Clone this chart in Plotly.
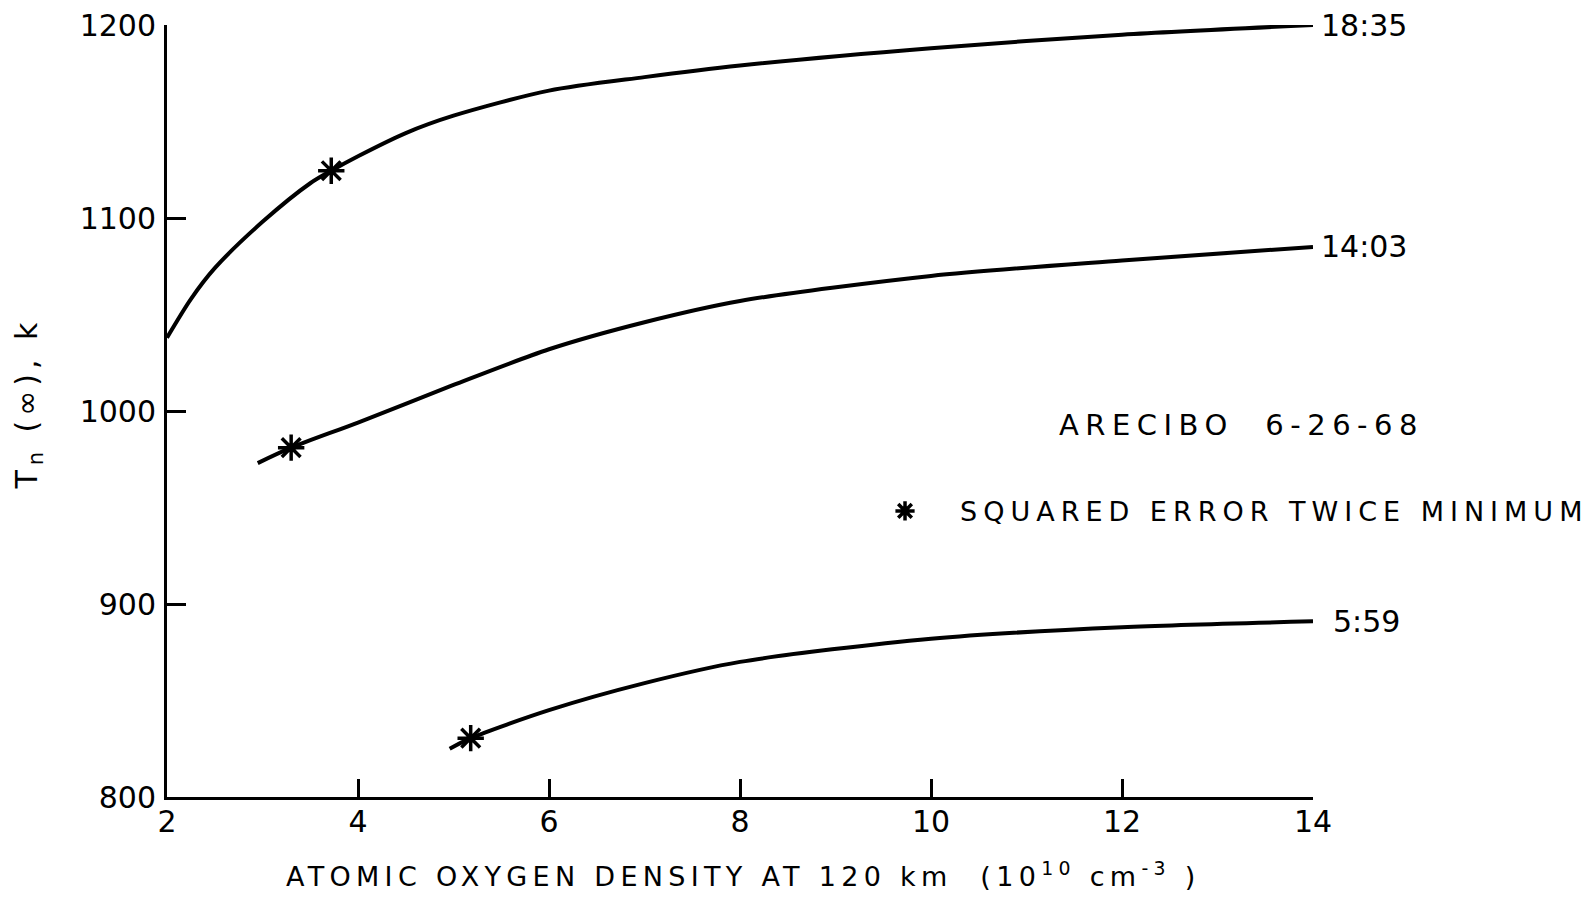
import plotly.graph_objects as go

# Atomic oxygen density at 120 km (1e10 cm^-3) vs exospheric temperature Tn(inf), K
x_1835 = [2.0, 2.25, 2.5, 3.0, 3.5, 3.72, 4.0, 4.5, 5.0, 6.0, 7.0, 8.0, 10.0, 12.0, 14.0]
t_1835 = [1038, 1058, 1074, 1098, 1118, 1124.5, 1132, 1144, 1153, 1166, 1173, 1179, 1188, 1195, 1200]

x_1403 = [2.95, 3.30, 4.0, 5.0, 6.0, 7.0, 8.0, 10.0, 12.0, 14.0]
t_1403 = [973, 981, 994, 1013.5, 1032, 1046, 1057, 1070, 1078, 1085]

x_0559 = [4.96, 5.18, 6.0, 7.0, 8.0, 10.0, 12.0, 14.0]
t_0559 = [825, 830.5, 845, 859, 870, 882, 888, 891]

curve_labels = ["18:35", "14:03", "5:59"]

# points where the squared error is twice the minimum
x_star = [3.72, 3.30, 5.18]
t_star = [1124.5, 981, 830.5]

x_ticks = [2, 4, 6, 8, 10, 12, 14]
y_ticks = [800, 900, 1000, 1100, 1200]

FONT = "DejaVu Sans"


def spaced(text, px):
    return f'<span style="letter-spacing:{px}px">{text}</span>'


fig = go.Figure()

for xs, ts in [(x_1835, t_1835), (x_1403, t_1403), (x_0559, t_0559)]:
    fig.add_trace(go.Scatter(
        x=xs, y=ts, mode="lines",
        line=dict(color="black", width=4, shape="spline", smoothing=0.8),
        showlegend=False, hoverinfo="skip",
    ))

fig.add_trace(go.Scatter(
    x=x_star, y=t_star, mode="markers",
    marker=dict(symbol="asterisk-open", size=22, color="black",
                line=dict(color="black", width=3.5)),
    name=spaced("SQUARED ERROR TWICE MINIMUM", 6),
    showlegend=True, cliponaxis=False,
))

# time-of-day labels at the right end of each curve
for xs, ts, lab in zip([x_1835, x_1403, x_0559], [t_1835, t_1403, t_0559], curve_labels):
    fig.add_annotation(
        x=xs[-1], y=ts[-1], xref="x", yref="y", text=lab,
        showarrow=False, xanchor="left", yanchor="middle",
        xshift=6 if lab != "5:59" else 18,
        font=dict(family=FONT, size=30, color="black"),
    )

fig.add_annotation(
    x=0.938, y=0.482, xref="paper", yref="paper",
    text=spaced("ARECIBO  6-26-68", 6.5),
    showarrow=False, xanchor="center", yanchor="middle",
    font=dict(family=FONT, size=29, color="black"),
)

# axis titles
fig.add_annotation(
    x=-0.121, y=0.51, xref="paper", yref="paper",
    text=spaced("T<sub>n</sub> (∞), k", 5),
    textangle=-90, showarrow=False, xanchor="center", yanchor="middle",
    font=dict(family=FONT, size=30, color="black"),
)
fig.add_annotation(
    x=0.503, y=-0.101, xref="paper", yref="paper",
    text=spaced("ATOMIC OXYGEN DENSITY AT 120 km  (10<sup>10</sup> cm<sup>-3</sup> )", 5.3),
    showarrow=False, xanchor="center", yanchor="middle",
    font=dict(family=FONT, size=27, color="black"),
)

fig.update_xaxes(
    range=[2, 14], tickvals=x_ticks, ticktext=[str(v) for v in x_ticks],
    showline=True, linecolor="black", linewidth=3,
    ticks="inside", ticklen=18, tickwidth=3, tickcolor="black",
    showgrid=False, zeroline=False,
    tickfont=dict(family=FONT, size=30, color="black"),
    ticklabelstandoff=-4,
)
fig.update_yaxes(
    range=[800, 1200], tickvals=y_ticks, ticktext=[str(v) for v in y_ticks],
    showline=True, linecolor="black", linewidth=3,
    ticks="inside", ticklen=19, tickwidth=3, tickcolor="black",
    showgrid=False, zeroline=False,
    tickfont=dict(family=FONT, size=30, color="black"),
    ticklabelstandoff=2,
)

fig.update_layout(
    width=1592, height=897,
    margin=dict(l=167, r=279, t=25, b=100, autoexpand=False),
    paper_bgcolor="white", plot_bgcolor="white",
    legend=dict(
        x=0.596, y=0.37, xanchor="left", yanchor="middle",
        bgcolor="rgba(0,0,0,0)", borderwidth=0,
        font=dict(family=FONT, size=27, color="black"),
        itemwidth=100,
    ),
)

fig.write_html("out.html")
